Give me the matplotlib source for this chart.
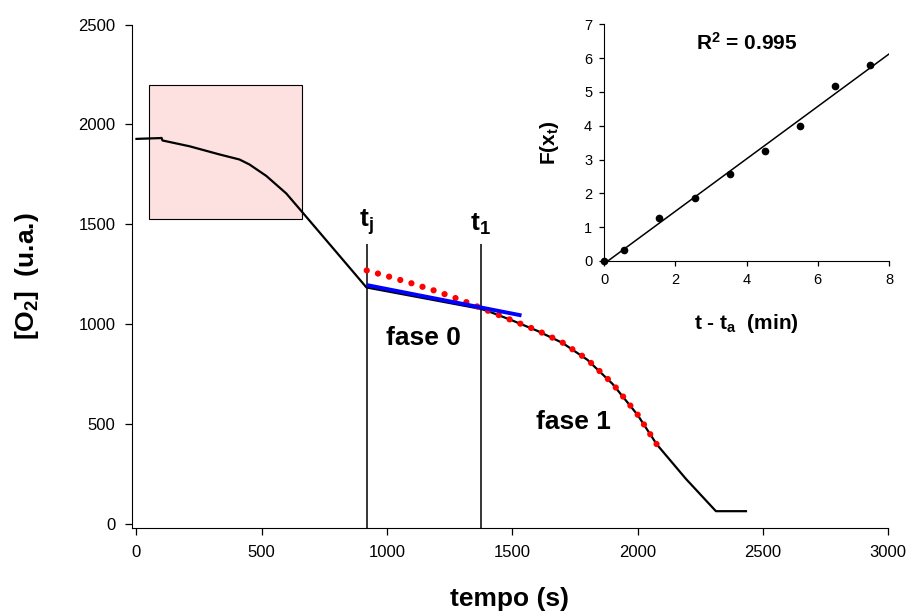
import numpy as np
import matplotlib
matplotlib.use("Agg")
import matplotlib.pyplot as plt
from matplotlib.patches import Rectangle

plt.rcParams["font.family"] = ["Liberation Sans", "DejaVu Sans"]
plt.rcParams["mathtext.fontset"] = "custom"
plt.rcParams["mathtext.rm"] = "Liberation Sans"
plt.rcParams["mathtext.bf"] = "Liberation Sans:bold"
plt.rcParams["mathtext.it"] = "Liberation Sans:italic"

# oxygen trace (tempo in s, [O2] in u.a.)
trace_t = [0, 95, 100, 104, 212, 332, 411, 451, 518, 598, 663, 918,
           1374, 1400, 1500, 1600, 1700, 1800, 1900, 2000, 2077, 2193, 2313, 2433]
trace_o2 = [1928, 1932, 1933, 1920, 1891, 1850, 1825, 1800, 1743, 1655, 1560, 1185,
            1078, 1068, 1020, 968, 908, 823, 703, 548, 400, 228, 66, 66]

# model curve (red dotted)
model_t = [919, 1000, 1100, 1200, 1300, 1400, 1500, 1600, 1700, 1800, 1900, 2000, 2077]
model_o2 = [1270, 1242, 1205, 1165, 1120, 1070, 1020, 970, 910, 825, 705, 550, 400]

# fase 0 linear fit (blue)
fit0_t = [919, 1537]
fit0_o2 = [1197, 1045]

t_j = 919
t_1 = 1374
marker_top = 1400

# highlighted region
box_t = (49, 662)
box_o2 = (1525, 2195)

# inset: F(x_t) vs t - t_a
ins_x = [0, 0.56, 1.55, 2.55, 3.54, 4.52, 5.51, 6.49, 7.48]
ins_y = [0, 0.32, 1.26, 1.85, 2.57, 3.25, 3.99, 5.18, 5.80]

fig = plt.figure(figsize=(9.12, 6.16), dpi=100)
ax = fig.add_axes([0.1447, 0.1429, 0.829, 0.8173])

ax.add_patch(Rectangle((box_t[0], box_o2[0]), box_t[1] - box_t[0], box_o2[1] - box_o2[0],
                       facecolor="#fde0e0", edgecolor="black", lw=0.8, zorder=1))
ax.plot(trace_t, trace_o2, color="black", lw=1.6, zorder=3)
ax.vlines([t_j, t_1], -18, marker_top, color="black", lw=1.1, zorder=2)
ax.plot(model_t, model_o2, color="red", lw=4.5, linestyle=(0, (0.01, 1.85)),
        dash_capstyle="round", zorder=4)
ax.plot(fit0_t, fit0_o2, color="#0000ff", lw=2.8, solid_capstyle="butt", zorder=5)

ax.text(t_j, 1435, r"$\mathbf{t_j}$", ha="center", va="bottom", fontsize=19)
ax.text(t_1, 1435, r"$\mathbf{t_1}$", ha="center", va="bottom", fontsize=19)
ax.text(1145, 930, "fase 0", ha="center", va="center", fontsize=19, fontweight="bold")
ax.text(1745, 512, "fase 1", ha="center", va="center", fontsize=19, fontweight="bold")

ax.set_xlim(-18, 3000)
ax.set_ylim(-18, 2500)
ax.set_xticks(np.arange(0, 3001, 500))
ax.set_yticks(np.arange(0, 2501, 500))
for s in ["top", "right"]:
    ax.spines[s].set_visible(False)
ax.tick_params(direction="out", length=5, width=0.9, labelsize=12, pad=7)
ax.set_xlabel("tempo (s)", fontsize=19, fontweight="bold")
ax.set_ylabel(r"$\mathbf{[O_2]}$  (u.a.)", fontsize=19, fontweight="bold")
ax.xaxis.set_label_coords(0.5, -0.118)
ax.yaxis.set_label_coords(-0.12, 0.5)

# inset
ins = fig.add_axes([0.6623, 0.5763, 0.3125, 0.3843])
ins.patch.set_alpha(0)
slope, icpt = np.polyfit(ins_x, ins_y, 1)
x0 = -icpt / slope
ins.plot([x0, 8], [0, slope * 8 + icpt], color="black", lw=1.1)
ins.plot(ins_x, ins_y, "o", color="black", ms=4.5, clip_on=False)
ins.set_xlim(0, 8)
ins.set_ylim(0, 7)
ins.set_xticks(np.arange(0, 9, 2))
ins.set_yticks(np.arange(0, 8, 1))
for s in ["top", "right"]:
    ins.spines[s].set_visible(False)
ins.tick_params(direction="out", length=3.5, width=0.9, labelsize=10.5, pad=5)
ins.text(0.5, 0.92, r"$\mathbf{R^2}$ = 0.995", transform=ins.transAxes,
         ha="center", va="center", fontsize=15, fontweight="bold")
ins.set_xlabel(r"t - $\mathbf{t_a}$  (min)", fontsize=15, fontweight="bold")
ins.set_ylabel(r"$\mathbf{F(x_t)}$", fontsize=15, fontweight="bold")
ins.xaxis.set_label_coords(0.5, -0.215)
ins.yaxis.set_label_coords(-0.15, 0.5)

fig.savefig("out.png", dpi=100)
